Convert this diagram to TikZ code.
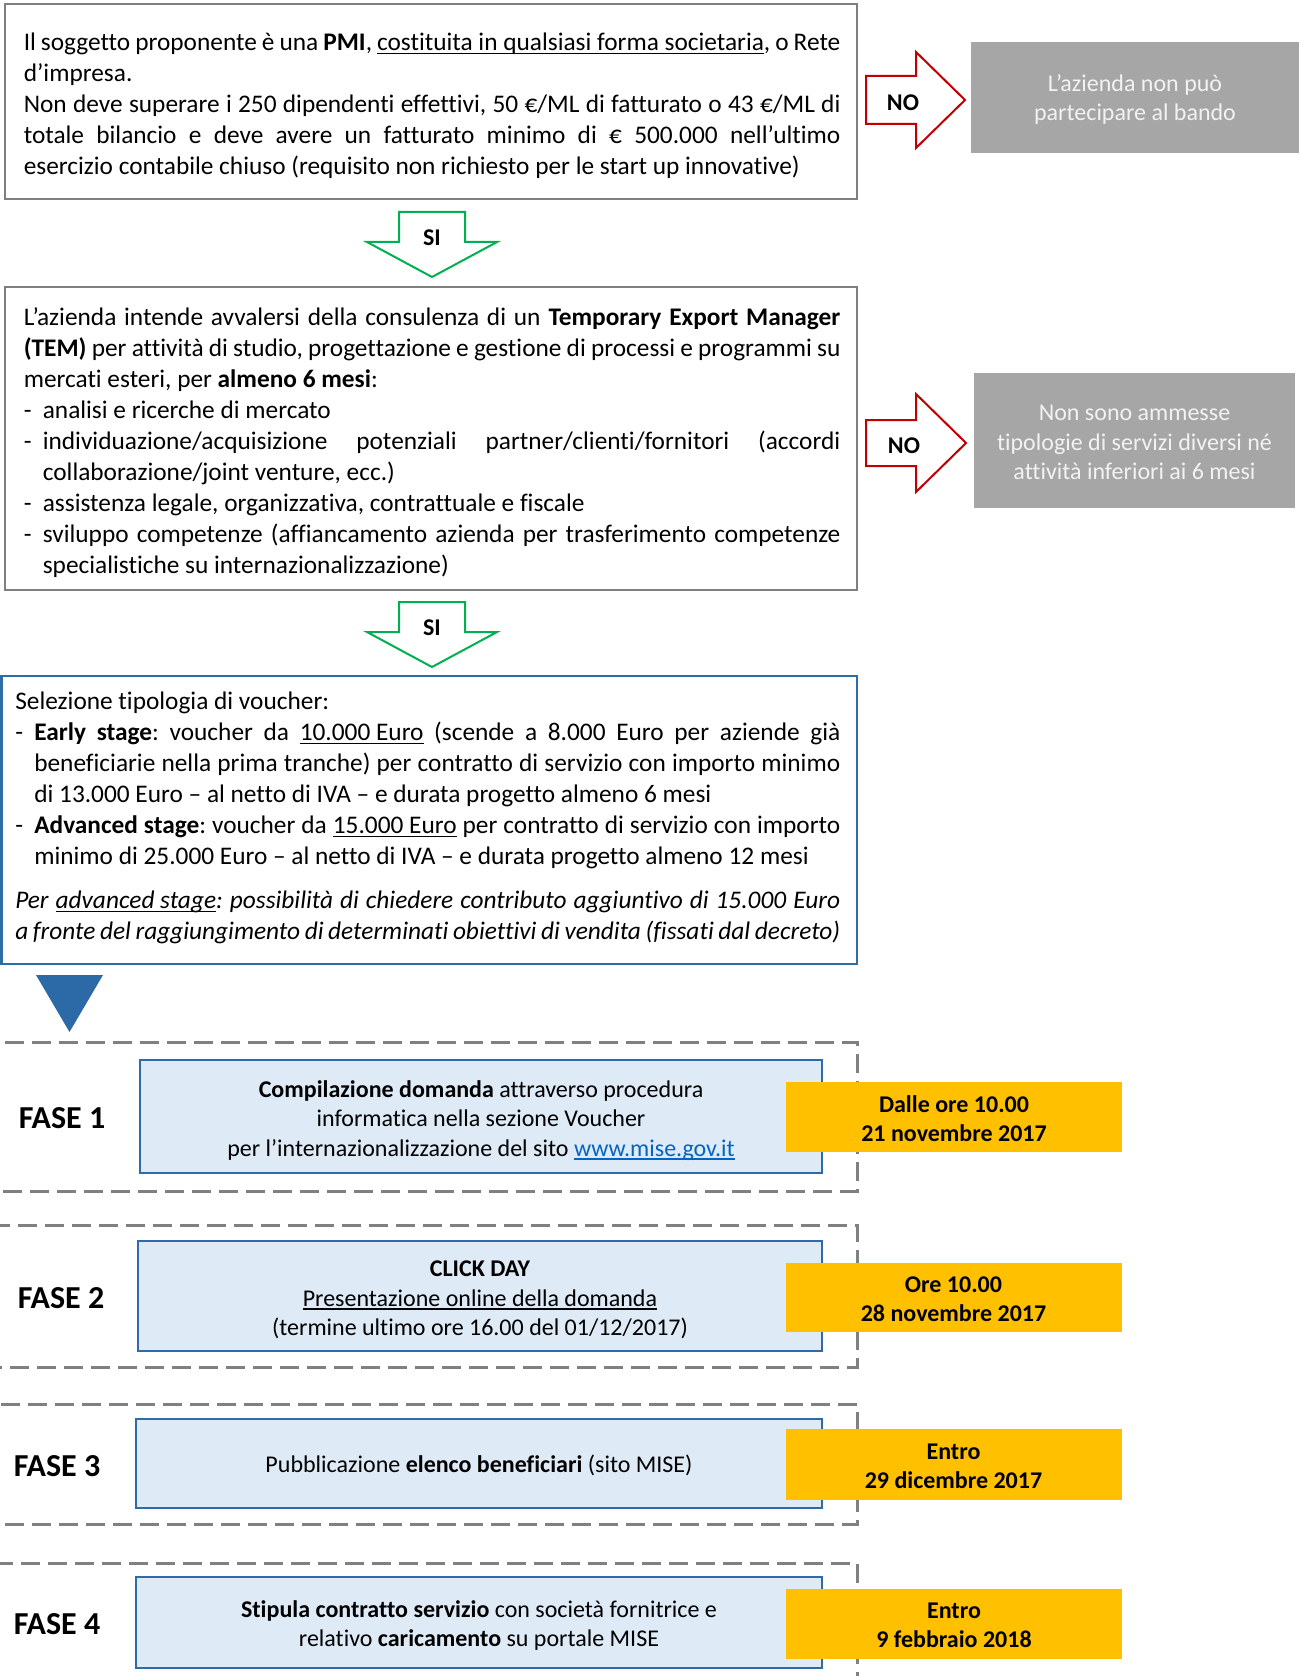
\documentclass[tikz,border=0pt]{standalone}
\usepackage{fontspec}
\setmainfont{Carlito}[Ligatures=NoCommon,RawFeature={-liga;-clig;-calt;-dlig}]
\frenchspacing
\definecolor{boxgray}{HTML}{7F7F7F}
\definecolor{boxblue}{HTML}{2E6DA4}
\definecolor{phaseblue}{HTML}{2F6BA8}
\definecolor{phasefill}{HTML}{DEEBF7}
\definecolor{dateyellow}{HTML}{FFC000}
\definecolor{dashgray}{HTML}{808080}
\definecolor{nored}{HTML}{C00000}
\definecolor{sigreen}{HTML}{00B050}
\definecolor{greyfill}{HTML}{A6A6A6}
\definecolor{greytext}{HTML}{F2F2F2}
\definecolor{linkblue}{HTML}{0563C1}
\definecolor{triblue}{HTML}{2B6AA6}
\newcommand\myul[1]{\setbox0\hbox{#1}\leavevmode\rlap{\rule[-2.6pt]{\wd0}{0.9pt}}\box0\relax}
\newcommand\bodyfont{\fontsize{19pt}{23.25pt}\selectfont\parindent=0pt\frenchspacing\relax}
\newcommand\smallfont{\fontsize{18pt}{22pt}\selectfont}
\newcommand\fasefont{\fontsize{24pt}{28pt}\selectfont\bfseries}
\newcommand\itm{\hangindent=14.3pt\hangafter=1\relax\makebox[14.3pt][l]{-}}
\begin{document}
\begin{tikzpicture}[x=0.75pt,y=-0.75pt,
  grayframe/.style={draw=boxgray, line width=1.9pt},
  blueframe/.style={draw=boxblue, line width=1.9pt},
  bodytext/.style={anchor=north west, inner sep=0pt, align=justify, font=\bodyfont},
  greybox/.style={fill=greyfill, inner sep=0pt},
  greylabel/.style={inner sep=0pt, align=center, text=greytext, font=\smallfont},
  noarrow/.style={draw=nored, line width=1.5pt, fill=white, line join=miter},
  siarrow/.style={draw=sigreen, line width=1.5pt, fill=white, line join=miter},
  arrowlabel/.style={inner sep=0pt, font=\smallfont\bfseries},
  dashframe/.style={draw=dashgray, line width=2.25pt, dash pattern=on 14.25pt off 6pt},
  phasebox/.style={draw=phaseblue, fill=phasefill, line width=2.2pt, inner sep=0pt},
  phaselabel/.style={inner sep=0pt, align=center, font=\smallfont},
  datebox/.style={fill=dateyellow, inner sep=0pt, align=center, font=\smallfont\bfseries, minimum width=252pt},
  faselabel/.style={inner sep=0pt, font=\fasefont}
]
\useasboundingbox (0,0) rectangle (1300,1676);
\clip (0,0) rectangle (1300,1676);
\fill[white] (0,0) rectangle (1300,1676);

% ---------- Box 1 ----------
\draw[grayframe] (5,4) rectangle (857,199);
\node[bodytext, text width=612.5pt] (t1) at (23.5,28.5) {\strut Il soggetto proponente è una \textbf{PMI}, \myul{costituita in qualsiasi forma societaria}, o Rete\linebreak
d’impresa.\par
Non deve superare i 250 dipendenti effettivi, 50 €/ML di fatturato o 43 €/ML di\linebreak
totale bilancio e deve avere un fatturato minimo di € 500.000 nell’ultimo\linebreak
esercizio contabile chiuso (requisito non richiesto per le start up innovative)\par};

% NO arrow 1
\draw[noarrow] (866,76) -- (916,76) -- (916,52) -- (965,100) -- (916,148) -- (916,124) -- (866,124) -- cycle;
\node[arrowlabel] (no1) at (903,103) {NO};
\node[greybox, minimum width=246pt, minimum height=83.25pt] (g1) at (1135,97.5) {};
\node[greylabel] (g1t) at (1135,99.5) {L’azienda non può\\partecipare al bando};

% SI arrow 1
\draw[siarrow] (399,212) -- (465,212) -- (465,242) -- (497,242) -- (432,277) -- (367,242) -- (399,242) -- cycle;
\node[arrowlabel] (si1) at (432,238) {SI};

% ---------- Box 2 ----------
\draw[grayframe] (5,287) rectangle (857,590);
\node[bodytext, text width=612.5pt] (t2) at (23.5,303.5) {\strut L’azienda intende avvalersi della consulenza di un \textbf{Temporary Export Manager}\linebreak
\textbf{(TEM)} per attività di studio, progettazione e gestione di processi e programmi su\linebreak
mercati esteri, per \textbf{almeno 6 mesi}:\par
\itm analisi e ricerche di mercato\par
\itm individuazione/acquisizione potenziali partner/clienti/fornitori (accordi\linebreak
collaborazione/joint venture, ecc.)\par
\itm assistenza legale, organizzativa, contrattuale e fiscale\par
\itm sviluppo competenze (affiancamento azienda per trasferimento competenze\linebreak
specialistiche su internazionalizzazione)\par};

% NO arrow 2
\draw[noarrow] (866,420) -- (916,420) -- (916,394) -- (966,443) -- (916,492) -- (916,466) -- (866,466) -- cycle;
\node[arrowlabel] (no2) at (904,446) {NO};
\node[greybox, minimum width=240.75pt, minimum height=101.25pt] (g2) at (1134.5,440.5) {};
\node[greylabel] (g2t) at (1134.5,442.5) {Non sono ammesse\\tipologie di servizi diversi né\\attività inferiori ai 6 mesi};

% SI arrow 2
\draw[siarrow] (399,602) -- (465,602) -- (465,632) -- (497,632) -- (432,667) -- (367,632) -- (399,632) -- cycle;
\node[arrowlabel] (si2) at (432,628) {SI};

% ---------- Box 3 ----------
\draw[blueframe] (1.5,676) rectangle (857,964);
\node[bodytext, text width=618.75pt] (t3) at (15,688) {\strut Selezione tipologia di voucher:\par
\itm\textbf{Early stage}: voucher da \myul{10.000 Euro} (scende a 8.000 Euro per aziende già\linebreak
beneficiarie nella prima tranche) per contratto di servizio con importo minimo\linebreak
di 13.000 Euro – al netto di IVA – e durata progetto almeno 6 mesi\par
\itm\textbf{Advanced stage}: voucher da \myul{15.000 Euro} per contratto di servizio con importo\linebreak
minimo di 25.000 Euro – al netto di IVA – e durata progetto almeno 12 mesi\par
\vspace{9.75pt}
\textit{Per \myul{advanced stage}: possibilità di chiedere contributo aggiuntivo di 15.000 Euro\linebreak
a fronte del raggiungimento di determinati obiettivi di vendita (fissati dal decreto)}\par};

% blue triangle
\fill[triblue] (36,975) -- (103,975) -- (69.5,1032) -- cycle;

% ---------- Phases ----------
\draw[dashframe] (-10,1042) rectangle (857,1191);
\draw[dashframe] (-10,1225) rectangle (857,1367);
\draw[dashframe] (-10,1404) rectangle (857,1524);
\draw[dashframe] (-10,1563) rectangle (857,1720);

\node[faselabel] (f1) at (62,1118) {FASE 1};
\node[faselabel] (f2) at (61,1298) {FASE 2};
\node[faselabel] (f3) at (57,1466) {FASE 3};
\node[faselabel] (f4) at (57,1624) {FASE 4};

\node[phasebox, minimum width=511.5pt, minimum height=84.75pt] (p1) at (481,1116.5) {};
\node[phaselabel] (p1t) at (481,1120.5)
  {\textbf{Compilazione domanda} attraverso procedura\\informatica nella sezione Voucher\\per l’internazionalizzazione del sito {\color{linkblue}\myul{www.mise.gov.it}}};
\node[phasebox, minimum width=513pt, minimum height=82.5pt] (p2) at (480,1296) {};
\node[phaselabel] (p2t) at (480,1300)
  {\textbf{CLICK DAY}\\\myul{Presentazione online della domanda}\\(termine ultimo ore 16.00 del 01/12/2017)};
\node[phasebox, minimum width=514.5pt, minimum height=66.75pt] (p3) at (479,1463.5) {};
\node[phaselabel] (p3t) at (479,1465.5)
  {Pubblicazione \textbf{elenco beneficiari} (sito MISE)};
\node[phasebox, minimum width=514.5pt, minimum height=68.25pt] (p4) at (479,1622.5) {};
\node[phaselabel] (p4t) at (479,1625.5)
  {\textbf{Stipula contratto servizio} con società fornitrice e\\relativo \textbf{caricamento} su portale MISE};

\node[datebox, minimum height=52.5pt] (d1) at (954,1117) {};
\node[phaselabel, font=\smallfont\bfseries] (d1t) at (954,1118.5) {Dalle ore 10.00\\21 novembre 2017};
\node[datebox, minimum height=51.75pt] (d2) at (953.5,1297.5) {};
\node[phaselabel, font=\smallfont\bfseries] (d2t) at (953.5,1299) {Ore 10.00\\28 novembre 2017};
\node[datebox, minimum height=53.25pt] (d3) at (953.5,1464.5) {};
\node[phaselabel, font=\smallfont\bfseries] (d3t) at (953.5,1466) {Entro\\29 dicembre 2017};
\node[datebox, minimum height=52.5pt] (d4) at (954,1624) {};
\node[phaselabel, font=\smallfont\bfseries] (d4t) at (954,1625.5) {Entro\\9 febbraio 2018};
\end{tikzpicture}
\end{document}
